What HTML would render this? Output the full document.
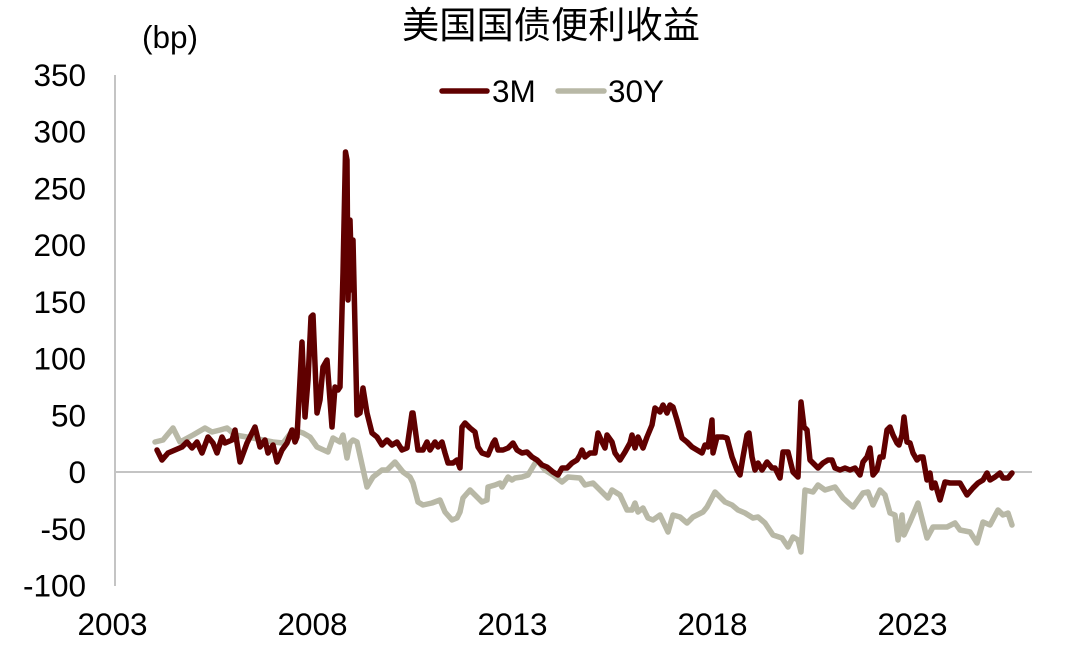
<!DOCTYPE html>
<html>
<head>
<meta charset="utf-8">
<style>
html,body{margin:0;padding:0;background:#fff;}
svg{display:block;}
text{font-family:"Liberation Sans","Noto Sans CJK SC",sans-serif;fill:#000;}
</style>
</head>
<body>
<svg width="1065" height="651" viewBox="0 0 1065 651" xmlns="http://www.w3.org/2000/svg">
<rect width="1065" height="651" fill="#fff"/>
<!-- title -->
<text x="402" y="38" font-size="37" textLength="298" lengthAdjust="spacingAndGlyphs" style="font-family:'Liberation Sans','Noto Sans CJK SC',sans-serif">美国国债便利收益</text>
<!-- unit -->
<text x="142" y="48" font-size="31.5">(bp)</text>
<!-- y labels -->
<g font-size="31.5" text-anchor="end">
<text x="86" y="86">350</text>
<text x="86" y="142.7">300</text>
<text x="86" y="199.4">250</text>
<text x="86" y="256.2">200</text>
<text x="86" y="312.9">150</text>
<text x="86" y="369.6">100</text>
<text x="86" y="426.3">50</text>
<text x="86" y="483">0</text>
<text x="86" y="539.8">-50</text>
<text x="86" y="596.5">-100</text>
</g>
<!-- x labels -->
<g font-size="31.5" text-anchor="middle">
<text x="112.5" y="635">2003</text>
<text x="312.5" y="635">2008</text>
<text x="512.5" y="635">2013</text>
<text x="712.5" y="635">2018</text>
<text x="912.5" y="635">2023</text>
</g>
<!-- axes -->
<line x1="115" y1="75" x2="115" y2="586" stroke="#c4c4c4" stroke-width="2"/>
<line x1="115" y1="472" x2="1032" y2="472" stroke="#c4c4c4" stroke-width="2"/>
<!-- legend -->
<line x1="442" y1="91" x2="487" y2="91" stroke="#600000" stroke-width="5.5" stroke-linecap="round"/>
<text x="492" y="102" font-size="31.5">3M</text>
<line x1="558" y1="91" x2="604" y2="91" stroke="#b8b8a6" stroke-width="5.5" stroke-linecap="round"/>
<text x="608" y="102" font-size="31.5">30Y</text>
<!-- 30Y -->
<polyline fill="none" stroke="#b8b8a6" stroke-width="5.5" stroke-linejoin="round" stroke-linecap="round" points="155,442 163,440 173,428 180,442 193,435 205,428 212,432 220,430 227,428 235,435 247,437 263,440 273,442 283,443 293,430 303,433 310,437 317,447 328,452 333,438 340,442 343,435 347,458 350,443 353,440 357,442 367,487 373,477 382,470 387,470 395,462 403,472 410,477 413,483 418,502 423,505 432,503 440,500 445,512 452,520 457,518 460,512 463,498 470,490 477,497 482,502 487,500 488,487 495,485 500,483 502,487 508,477 512,480 515,478 522,477 528,475 537,460 545,470 553,475 562,482 568,477 580,478 585,485 593,483 600,490 608,498 612,490 620,495 627,510 632,510 635,503 638,512 643,508 648,518 653,520 660,515 668,532 673,515 680,517 687,523 693,517 703,512 707,507 715,492 725,502 732,505 738,510 745,513 753,518 758,517 765,523 773,535 782,538 788,547 793,537 798,540 801,552 805,490 813,492 818,485 825,490 835,487 843,498 853,507 863,493 868,492 873,505 880,490 885,495 890,513 895,515 898,540 902,515 904,535 910,522 918,503 927,538 933,527 947,527 955,523 960,530 970,532 977,543 983,522 990,525 998,510 1003,515 1008,513 1012,525"/>
<!-- 3M -->
<polyline fill="none" stroke="#600000" stroke-width="5.5" stroke-linejoin="round" stroke-linecap="round" points="157,450 162,460 168,453 175,450 182,447 187,442 192,448 197,442 202,453 208,437 213,443 217,453 222,437 225,443 232,440 235,430 240,462 247,443 255,427 260,447 265,440 268,453 273,445 277,462 282,450 287,443 292,430 295,442 297,437 302,342 305,417 308,380 311,317 313,315 317,413 320,400 323,367 327,360 332,427 335,387 338,390 340,387 343,273 345.5,152 347,160 348,300 350,220 352,290 353,240 357,415 360,413 363,388 367,413 372,433 377,437 382,445 387,440 392,445 397,442 402,450 407,448 412,413 413,413 418,450 423,450 427,442 430,450 435,442 438,447 442,442 445,453 448,463 453,463 457,460 460,468 462,427 465,423 470,428 475,432 478,447 482,453 488,455 493,443 495,440 498,450 503,450 508,448 513,443 517,450 522,453 527,452 532,457 537,460 542,465 547,467 553,472 558,475 562,468 567,468 572,463 577,460 580,455 582,450 585,457 590,453 595,453 598,433 602,442 605,448 607,435 612,442 615,453 620,460 625,452 630,443 632,435 635,448 638,437 643,448 647,437 652,425 655,408 660,412 663,405 667,413 670,405 673,407 677,420 682,438 687,442 692,447 697,450 702,453 705,445 708,447 712,420 713,453 717,437 723,437 727,438 732,457 737,470 740,475 743,457 747,435 749,433 752,457 755,470 758,463 762,470 767,462 772,468 775,468 780,478 783,452 788,452 793,472 798,477 801,402 804,427 807,430 810,460 815,465 818,468 823,463 828,460 832,460 835,468 840,470 845,468 850,470 855,468 860,475 863,462 867,457 870,448 873,475 877,470 880,457 883,457 887,430 890,427 893,435 897,443 899,445 902,435 904,417 907,442 910,443 913,453 917,460 920,457 923,457 927,480 930,473 932,488 935,483 940,500 945,482 950,483 955,483 960,483 967,495 973,488 978,483 983,480 987,473 990,480 995,477 1000,473 1003,478 1008,478 1012,473"/>
</svg>
</body>
</html>
